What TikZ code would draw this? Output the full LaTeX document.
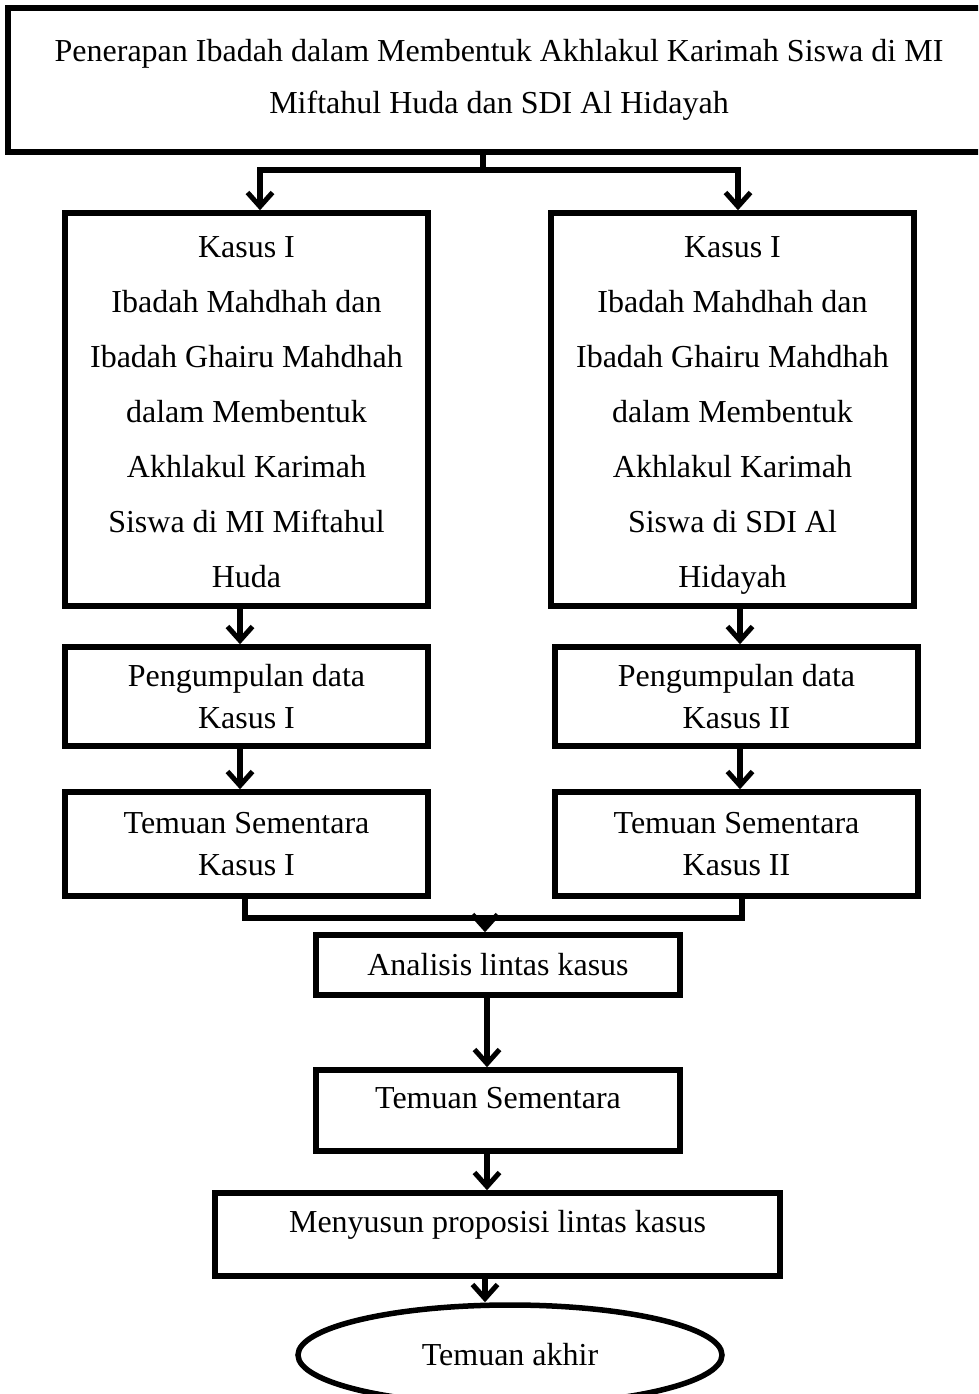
\documentclass[tikz,border=0pt]{standalone}
\usepackage{fontspec}
\setmainfont{Liberation Serif}
\usetikzlibrary{arrows.meta,shapes.geometric}
\begin{document}
\begin{tikzpicture}[x=1pt,y=-1pt,
 box/.style={draw,line width=5.5pt,rectangle,align=center,inner sep=0pt,font=\fontsize{32}{42}\selectfont},
 arr/.style={line width=5.5pt,-{Straight Barb[length=14pt,width=25pt,line width=5pt]}},
 ln/.style={line width=5.5pt}]
\clip (0,0) rectangle (978,1394);
\node[box,minimum width=982pt,minimum height=144pt,font=\fontsize{32}{52}\selectfont] (top) at (499,80)
 {Penerapan Ibadah dalam Membentuk Akhlakul Karimah Siswa di MI\\Miftahul Huda dan SDI Al Hidayah};
\node[box,minimum width=363pt,minimum height=393pt,font=\fontsize{32}{55}\selectfont] (k1) at (246.5,409.5)
 {\rule{0pt}{32pt}Kasus I\\Ibadah Mahdhah dan\\Ibadah Ghairu Mahdhah\\dalam Membentuk\\Akhlakul Karimah\\Siswa di MI Miftahul\\Huda\vphantom{y}};
\node[box,minimum width=363pt,minimum height=393pt,font=\fontsize{32}{55}\selectfont] (k2) at (732.5,409.5)
 {\rule{0pt}{32pt}Kasus I\\Ibadah Mahdhah dan\\Ibadah Ghairu Mahdhah\\dalam Membentuk\\Akhlakul Karimah\\Siswa di SDI Al\\Hidayah};
\node[box,minimum width=363pt,minimum height=99pt] (p1) at (246.5,696.5) {Pengumpulan data\\Kasus I};
\node[box,minimum width=363pt,minimum height=99pt] (p2) at (736.5,696.5) {Pengumpulan data\\Kasus II};
\node[box,minimum width=363pt,minimum height=104pt] (t1) at (246.5,844) {Temuan Sementara\\Kasus I};
\node[box,minimum width=363pt,minimum height=104pt] (t2) at (736.5,844) {Temuan Sementara\\Kasus II};
\node[box,minimum width=364pt,minimum height=60pt] (a) at (498,965) {Analisis lintas kasus};
\node[box,minimum width=364pt,minimum height=81pt,text depth=26pt] (s) at (498,1110.5) {Temuan Sementara};
\node[box,minimum width=565pt,minimum height=83pt,text depth=26pt] (m) at (497.5,1234.5) {Menyusun proposisi lintas kasus};
\node[box,ellipse,minimum width=424pt,minimum height=100pt] (e) at (510,1355) {Temuan akhir};
\coordinate (sp) at (483,170);
\draw[ln] (top.south -| sp) -- (sp);
\draw[arr] (sp) -| ([xshift=13.5pt]k1.north);
\draw[arr] (sp) -| ([xshift=5.5pt]k2.north);
\draw[arr] ([xshift=-6.5pt]k1.south) -- ([xshift=-6.5pt]p1.north);
\draw[arr] ([xshift=3.5pt]p2.north |- k2.south) -- ([xshift=3.5pt]p2.north);
\draw[arr] ([xshift=-6.5pt]p1.south) -- ([xshift=-6.5pt]t1.north);
\draw[arr] ([xshift=3.5pt]p2.south) -- ([xshift=3.5pt]t2.north);
\coordinate (mg) at (485,918);
\draw[ln] ([xshift=-1.5pt]t1.south) |- (mg) -| ([xshift=5.5pt]t2.south);
\draw[arr] (mg) -- (a.north -| mg);
\draw[arr] ([xshift=-11pt]a.south) -- ([xshift=-11pt]s.north);
\draw[arr] ([xshift=-11pt]s.south) -- ([xshift=-10.5pt]m.north);
\coordinate (me) at ([xshift=-12.5pt]m.south);
\draw[arr] (me) -- (e.north -| me);
\end{tikzpicture}
\end{document}
